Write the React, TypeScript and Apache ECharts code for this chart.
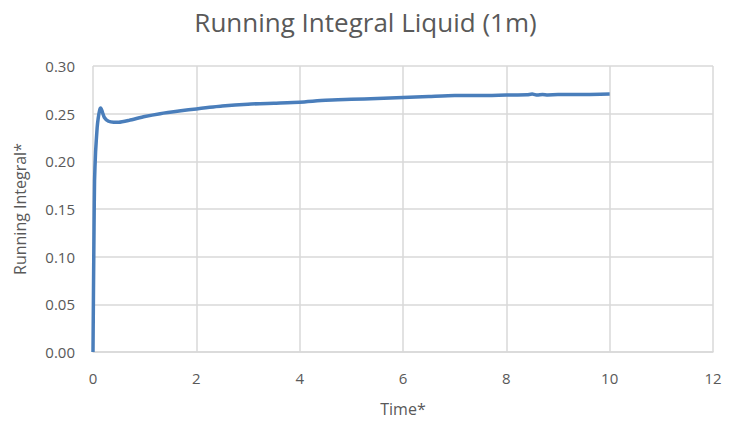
import React, { useEffect, useRef } from "react";
import * as echarts from "echarts";

const timeValues = [0, 0.01, 0.02, 0.03, 0.05, 0.08, 0.1, 0.13, 0.15, 0.18, 0.22, 0.3, 0.4, 0.5, 0.7, 1.0, 1.3, 1.7, 2.0, 2.5, 3, 3.5, 4, 4.5, 5, 5.5, 6, 6.5, 7, 7.5, 8, 8.4, 8.5, 8.6, 8.7, 8.8, 9, 9.5, 10];
const integralValues = [0, 0.07, 0.13, 0.18, 0.21, 0.235, 0.245, 0.254, 0.256, 0.252, 0.246, 0.242, 0.241, 0.241, 0.243, 0.247, 0.25, 0.253, 0.255, 0.258, 0.26, 0.261, 0.262, 0.264, 0.265, 0.266, 0.267, 0.268, 0.269, 0.269, 0.2695, 0.2698, 0.2705, 0.2695, 0.2702, 0.2697, 0.27, 0.27, 0.2705];

const titleText = "Running Integral Liquid (1m)";
const xAxisName = "Time*";
const yAxisName = "Running Integral*";

export default function App() {
  const ref = useRef<HTMLDivElement>(null);
  useEffect(() => {
    if (!ref.current) return;
    const chart = echarts.init(ref.current, null, { renderer: "svg" });
    const font = "Open Sans, Calibri, sans-serif";
    chart.setOption({
      animation: false,
      title: {
        text: titleText,
        left: "center",
        top: 7,
        padding: 0,
        textStyle: { fontFamily: font, fontSize: 26, lineHeight: 30, fontWeight: "normal", color: "#595959" },
      },
      grid: { left: 93, right: 18, top: 66, bottom: 73 },
      xAxis: {
        type: "value",
        min: 0,
        max: 12,
        interval: 2,
        name: xAxisName,
        nameLocation: "middle",
        nameGap: 49,
        nameTextStyle: { fontFamily: font, fontSize: 16, color: "#595959" },
        axisLine: { show: true, lineStyle: { color: "#d9d9d9", width: 1.5 } },
        axisTick: { show: false },
        axisLabel: { fontFamily: font, fontSize: 15, color: "#595959", margin: 18 },
        splitLine: { show: true, lineStyle: { color: "#d9d9d9", width: 1.5 } },
      },
      yAxis: {
        type: "value",
        min: 0,
        max: 0.3,
        interval: 0.05,
        name: yAxisName,
        nameLocation: "middle",
        nameGap: 65,
        nameTextStyle: { fontFamily: font, fontSize: 16, color: "#595959" },
        axisLine: { show: false },
        axisTick: { show: false },
        axisLabel: { fontFamily: font, fontSize: 15, color: "#595959", margin: 18, formatter: (v: number) => v.toFixed(2) },
        splitLine: { show: true, lineStyle: { color: "#d9d9d9", width: 1.5 } },
      },
      series: [
        {
          type: "line",
          data: timeValues.map((t, i) => [t, integralValues[i]]),
          showSymbol: false,
          smooth: 0.2,
          lineStyle: { color: "#4a7ebb", width: 3.5 },
        },
      ],
    });
    return () => chart.dispose();
  }, []);
  return <div ref={ref} style={{ position: "absolute", left: 0, top: 0, width: 731, height: 425 }} />;
}
